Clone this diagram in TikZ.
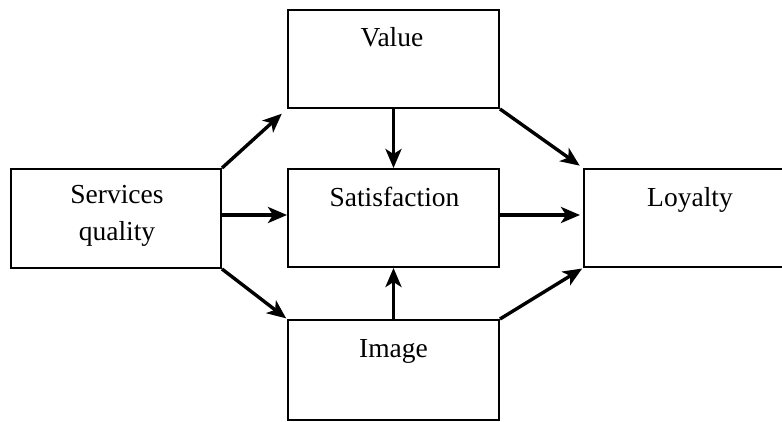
\documentclass[tikz,border=0pt]{standalone}
\usepackage{fontspec}
\setmainfont{Liberation Serif}
\usetikzlibrary{arrows.meta}
\begin{document}
\begin{tikzpicture}[x=1pt,y=-1pt,
  box/.style={draw=black, line width=2pt, rectangle, inner sep=0pt},
  lbl/.style={anchor=base, inner sep=0pt, font=\fontsize{27.5}{37}\selectfont, align=center},
  arr/.style={line width=3.4pt, -{Stealth[length=19pt,width=16pt,inset=5pt]}}]
\useasboundingbox (0,0) rectangle (782,421);
\clip (0,0) rectangle (782,421);
\node[box, minimum width=211pt, minimum height=98pt] (val) at (393.5,59) {};
\node[box, minimum width=210pt, minimum height=99pt] (svc) at (116,218.5) {};
\node[box, minimum width=211pt, minimum height=98pt] (sat) at (393.5,218) {};
\node[box, minimum width=212pt, minimum height=98pt] (loy) at (690,218) {};
\node[box, minimum width=211pt, minimum height=100pt] (img) at (393.5,370) {};
\node[lbl] (tval) at (392,46) {Value};
\node[lbl] (tsvc1) at (117,203) {Services};
\node[lbl] (tsvc2) at (117,240) {quality};
\node[lbl] (tsat) at (394.5,206) {Satisfaction};
\node[lbl] (tloy) at (690,206) {Loyalty};
\node[lbl] (timg) at (393.5,357) {Image};
\draw[arr, shorten >=7pt] (svc.north east) -- (val.south west);
\draw[arr, shorten >=4pt] (val.south east) -- (loy.north west);
\draw[arr, shorten >=1pt] (svc.south east) -- (img.north west);
\draw[arr, shorten >=1pt] (img.north east) -- (loy.south west);
\draw[arr] (val.south) -- (sat.north);
\draw[arr] (img.north) -- (sat.south);
\draw[arr] (svc.east |- 0,215) -- (sat.west |- 0,215);
\draw[arr, shorten >=3pt] (sat.east |- 0,215) -- (loy.west |- 0,215);
\end{tikzpicture}
\end{document}
